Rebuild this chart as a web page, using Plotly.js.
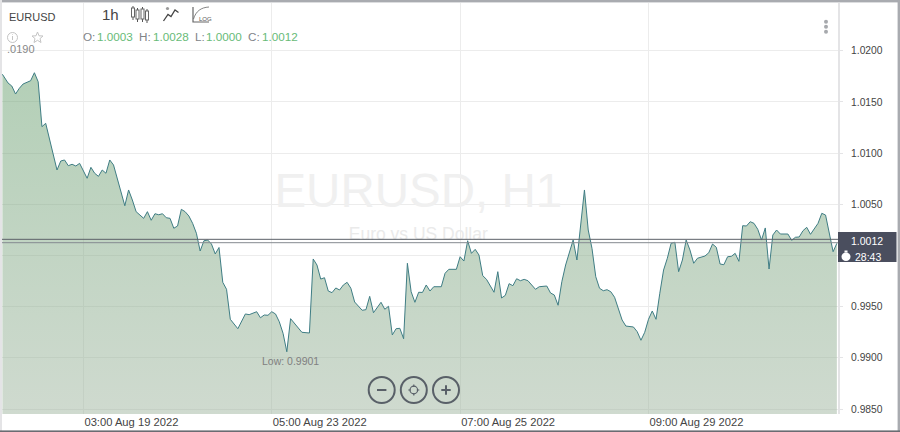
<!DOCTYPE html>
<html>
<head>
<meta charset="utf-8">
<script src="https://cdn.plot.ly/plotly-3.0.1.min.js"></script>
<style>
html,body{margin:0;padding:0;background:#fff;width:900px;height:432px;overflow:hidden}
#chart{position:absolute;left:0;top:0;width:900px;height:432px}
#ui{position:absolute;left:0;top:0;pointer-events:none}
</style>
</head>
<body>
<div id="chart"></div>
<svg id="ui" width="900" height="432" viewBox="0 0 900 432" fill="none">
  <rect x="0" y="0" width="900" height="2.4" fill="#a9abb0"/>
  <rect x="0" y="0" width="2" height="432" fill="#e4e4e6"/>
  <rect x="897.6" y="0" width="2.4" height="432" fill="#a9abb0"/>
  <rect x="0" y="430.4" width="900" height="1.6" fill="#6a6c72"/>
  <g stroke="#666" stroke-width="1">
    <g fill="#fff">
      <path d="M133 6V20M137.5 8V22M142.5 7V22M147 9V23" stroke="#555"/>
      <rect x="131.5" y="8" width="3" height="9"/><rect x="136" y="10" width="3" height="9"/>
      <rect x="141" y="9" width="3" height="10"/><rect x="145.5" y="11" width="3" height="9"/>
    </g>
    <path d="M163.5 21L168 14.5L171 16.5L175 10L178.5 12.5" stroke-width="1.3" stroke="#444"/>
    <circle cx="167.5" cy="8.5" r="1.6" fill="#999" stroke="none"/>
    <path d="M193 7V22H209" stroke-width="1.2"/>
    <path d="M193.5 19C196 11 201 7.5 209 7" stroke-width="0.8"/>
  </g>
  <circle cx="12.5" cy="37.5" r="5" stroke="#c4c4c4"/>
  <path d="M12.5 36V40M12.5 34.4V35" stroke="#c4c4c4"/>
  <path d="M37.5 32L39 35.8L43 36L40 38.6L41 42.5L37.5 40.3L34 42.5L35 38.6L32 36L36 35.8Z" stroke="#c4c4c4"/>
  <g fill="#a7a9ad"><circle cx="826" cy="21.7" r="2"/><circle cx="826" cy="26.7" r="2"/><circle cx="826" cy="31.7" r="2"/></g>
  <g stroke="#596068" stroke-width="2">
    <circle cx="381.7" cy="390" r="13"/><circle cx="413.8" cy="390" r="13"/><circle cx="446" cy="390" r="13"/>
    <path d="M377 390H386.4M441.3 390H450.7M446 385.3V394.7"/>
    <circle cx="413.8" cy="390" r="3.8" stroke-width="1.2"/>
    <path d="M413.8 384.5V387M413.8 393V395.5M408.3 390H410.8M416.8 390H419.3" stroke-width="1.2"/>
  </g>
</svg>
<script>
// Hour index counted from the 03:00 Aug 19 tick; hourly closes
var hours = [-21.5,-20,-19,-18,-17,-16,-14,-13,-12,-11,-10,-7,-6,-5,-4,-3,-2,-1,1,2,3,4,5,6,7,8,11,12,13,14,16,17,18,19,20,21,22,23,24,25,26,27,28,29,30,31,32,33,34,35,36,37,38,39,41,43,44,46,47,48,49,50,51,52,53,54,55,56,58,60,61,62,63,64,65,66,67,68,69,70,71,72,74,75,76,77,79,80,81,82,83,84,85,86,87,88,89,90,91,92,93,95,96,97,99,100,101,102,103,104,105,106,107,109,110,111,112,113,114,115,116,117,118,120,121,123,124,125,126,127,128,130,131,133,134,135,136,137,138,139,140,141,142,143,144,146,147,148,149,150,151,152,153,154,155,156,157,158,159,160,161,162,163,165,166,167,168,169,170,171,172,173,174,175,176,177,178,179,180,181,182,183,184,185,187,188,189,190,191,192,193,195,196,197,199,200];
var closes = [1.0177,1.01685,1.01655,1.01577,1.01633,1.01675,1.01707,1.01785,1.01697,1.01258,1.01291,1.00835,1.00923,1.00933,1.00877,1.00891,1.00874,1.0090,1.00754,1.00861,1.00803,1.00773,1.00835,1.00803,1.00933,1.00884,1.00486,1.0064,1.00542,1.00428,1.00363,1.00428,1.00344,1.00408,1.00398,1.00408,1.00369,1.00363,1.00266,1.00288,1.00451,1.00428,1.00386,1.00314,1.00217,1.00044,1.00144,1.00151,1.00112,1.00015,1.00078,0.99738,0.9967,0.99377,0.99285,0.99429,0.99422,0.99451,0.99392,0.99419,0.99416,0.99451,0.99429,0.99353,0.9924,0.9906,0.99383,0.99338,0.9925,0.99243,0.99966,0.99907,0.9977,0.99783,0.99653,0.99637,0.99683,0.99663,0.99712,0.99738,0.9968,0.99546,0.99465,0.99471,0.99601,0.99441,0.99543,0.99475,0.99504,0.99224,0.99285,0.99289,0.99187,0.99924,0.99646,0.99543,0.99641,0.99639,0.99712,0.99653,0.99695,0.99695,0.99826,0.99865,0.99865,0.99988,0.99946,1.00144,1.00021,1.0006,1.00005,0.99803,0.99767,0.99641,0.99842,0.99585,0.99611,0.99725,0.99705,0.99773,0.99754,0.99767,0.99754,0.9967,0.99695,0.99702,0.99634,0.99614,0.99514,0.99744,0.99907,1.00151,0.99956,1.0064,1.00249,1.0007,0.99793,0.9968,0.99656,0.99666,0.99646,0.99592,0.99484,0.9937,0.99311,0.99302,0.99256,0.99172,0.9925,0.99377,0.99458,0.99377,0.99631,0.99858,0.99973,1.00119,1.00129,0.99842,0.99956,1.00151,1.00054,0.99924,0.99973,0.99995,1.00027,1.00112,1.0008,0.99917,0.9991,0.99988,0.99992,1.00021,0.99943,1.00291,1.00288,1.0033,1.00314,1.00256,1.00151,1.00269,0.99868,1.002,1.00249,1.0021,1.0021,1.00148,1.00178,1.00181,1.00242,1.00275,1.00207,1.00314,1.00412,1.00395,1.00037,1.00119];
var xTickVals = [0,50,100,150];
var xTickText = ["03:00 Aug 19 2022","05:00 Aug 23 2022","07:00 Aug 25 2022","09:00 Aug 29 2022"];
var yTickVals = [1.02,1.015,1.01,1.005,1.0,0.995,0.99,0.985];
var yTickText = ["1.0200","1.0150","1.0100","1.0050","","0.9950","0.9900","0.9850"];
var priceLines = [1.00158,1.00125];
var ohlcLabels = ["O:","H:","L:","C:"];
var ohlcValues = ["1.0003","1.0028","1.0000","1.0012"];
var lowHour = 54, lowPrice = 0.9901;

// pixel helper for the chart furniture only
function px(x){return (x-2)/836;}
function py(y){return (414-y)/411;}
function note(x,y,text,size,color,anchor,extra){
  return Object.assign({xref:"paper",yref:"paper",x:px(x),y:py(y),text:text,showarrow:false,
    xanchor:anchor||"left",yanchor:"middle",borderpad:0,
    font:{family:"Liberation Sans, Arial, sans-serif",size:size,color:color}},extra||{});
}

var traces = [
  {type:"scatter",mode:"text",x:[88.9,88.9],y:[1.00586,1.0019],text:["EURUSD, H1","Euro vs US Dollar"],
   textposition:"middle center",hoverinfo:"skip",cliponaxis:false,
   textfont:{family:"Liberation Sans, Arial, sans-serif",size:[47.5,17.5],color:["#f0f0f0","#eaeaea"]}},
  {type:"scatter",mode:"lines",x:hours,y:closes,fill:"tozeroy",
   line:{color:"#3f7d84",width:1,shape:"linear"},
   fillcolor:"rgba(110,160,120,0.5)",
   fillgradient:{type:"vertical",start:1.0245,stop:0.9845,
     colorscale:[[0,"rgba(93,155,101,0.5)"],[1,"rgba(159,181,159,0.5)"]]},
   hoverinfo:"skip"}
];

var annotations = [
  note(8,17,"EURUSD",11,"#444"),
  note(6,49,".0190",11,"#888"),
  note(110,14.5,"1h",15,"#444","center"),
  note(198,19,"LOG",6,"#555"),
  note(261,360.5,"Low: "+lowPrice.toFixed(4),10.5,"#808080"),
  note(867,241,"1.0012",10.5,"#ffffff","center"),
  note(854,256.5,"28:43",10.5,"#ffffff")
];
var labelX = [82,138,194,247], valueX = [96,152,205,261];
ohlcLabels.forEach(function(l,i){
  annotations.push(note(labelX[i],36.5,l,11.7,"#808488"));
  annotations.push(note(valueX[i],36.5,ohlcValues[i],11.7,"#68bb78"));
});

var shapes = priceLines.map(function(p,i){
  return {type:"line",xref:"paper",yref:"y",x0:0,x1:1,y0:p,y1:p,layer:"above",
    line:{color:i===0?"#5b6068":"#868a90",width:1}};
});
shapes.push({type:"rect",xref:"paper",yref:"paper",x0:px(838),x1:px(896.5),y0:py(232),y1:py(262),
  fillcolor:"#4a4e5e",line:{width:0},layer:"above"});
shapes.push({type:"circle",xref:"paper",yref:"paper",x0:px(841.5),x1:px(850.5),y0:py(252.5),y1:py(261),
  fillcolor:"#ffffff",line:{width:0},layer:"above"});
shapes.push({type:"rect",xref:"paper",yref:"paper",x0:px(844.5),x1:px(847.5),y0:py(250.5),y1:py(252.5),
  fillcolor:"#ffffff",line:{width:0},layer:"above"});

var layout = {
  width:900,height:432,
  margin:{l:2,r:62,t:3,b:18,pad:0},
  paper_bgcolor:"rgba(0,0,0,0)",plot_bgcolor:"rgba(0,0,0,0)",
  showlegend:false,
  xaxis:{range:[-21.6,200.3],tickmode:"array",tickvals:xTickVals,ticktext:xTickText,
    showgrid:true,gridcolor:"#ececec",gridwidth:1,zeroline:false,showline:false,ticks:"",ticklen:0,
    ticklabelshift:48,
    tickangle:0,tickfont:{family:"Liberation Sans, Arial, sans-serif",size:11.2,color:"#444"}},
  yaxis:{range:[0.98452,1.02466],side:"right",tickmode:"array",tickvals:yTickVals,ticktext:yTickText,
    showgrid:true,gridcolor:"#ececec",gridwidth:1,zeroline:false,showline:true,linecolor:"#e4e4e6",linewidth:2,
    ticks:"outside",ticklen:3,tickcolor:"#e4e4e6",
    ticklabelstandoff:6,ticklabelshift:-1.5,
    tickfont:{family:"Liberation Sans, Arial, sans-serif",size:10.3,color:"#444"}},
  annotations:annotations,
  shapes:shapes
};
Plotly.newPlot("chart",traces,layout,{displayModeBar:false,staticPlot:true});
</script>
</body>
</html>
